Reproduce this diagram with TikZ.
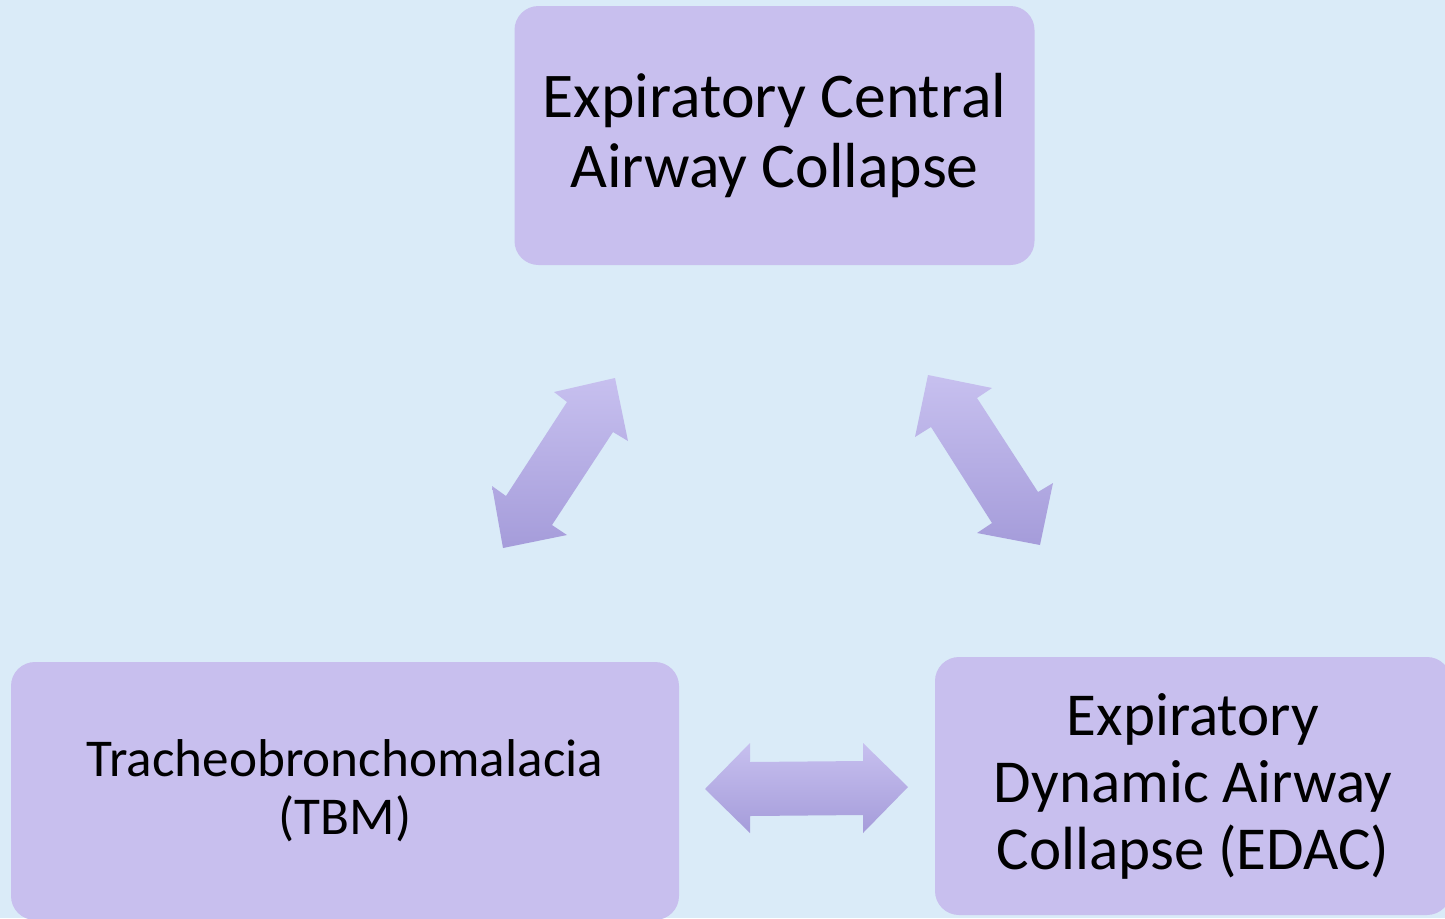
\documentclass[tikz,border=0pt]{standalone}
\usepackage{fontspec}
\setmainfont{Carlito}
\definecolor{bgblue}{HTML}{DAEBF8}
\definecolor{boxfill}{HTML}{C8BFEE}
\definecolor{arrtop}{HTML}{C7C0EF}
\definecolor{arrbot}{HTML}{A59CDA}
\begin{document}
\begin{tikzpicture}[x=1pt,y=-1pt,
  box/.style={draw=none, fill=boxfill, rounded corners=24pt, align=center, inner sep=0pt, text=black},
  blockarrow/.style={draw=none, top color=arrtop, bottom color=arrbot, shading angle=0}]
\useasboundingbox (0,0) rectangle (1445,918);
\fill[bgblue] (0,0) rectangle (1445,918);
\node[box, minimum width=520pt, minimum height=259pt, font={\fontsize{63.7}{70}\selectfont}] (ecac) at (774.5,135.5) {Expiratory Central\\Airway Collapse};
\node[box, minimum width=668pt, minimum height=258pt, font={\fontsize{53.2}{58}\selectfont}] (tbm) at (345,791) {Tracheobronchomalacia\\(TBM)};
\node[box, minimum width=516pt, minimum height=258pt, font={\fontsize{61}{67}\selectfont}] (edac) at (1193,786) {Expiratory\\Dynamic Airway\\Collapse (EDAC)};
% left diagonal double arrow
\shade[blockarrow] (615,378) -- (628,441) -- (613,432) -- (552,525) -- (567,535) -- (503,548)
  -- (492,486) -- (506,496) -- (567,402) -- (554,392) -- cycle;
% right diagonal double arrow
\shade[blockarrow] (928,375) -- (992,388) -- (977,398) -- (1038,492) -- (1053,483) -- (1040,545)
  -- (977,533) -- (992,523) -- (931,427) -- (915,437) -- cycle;
% horizontal double arrow
\shade[blockarrow] (705,789) -- (750,743) -- (750,762) -- (863,761) -- (863,743) -- (908,787)
  -- (863,833) -- (863,815) -- (750,816) -- (750,833) -- cycle;
\end{tikzpicture}
\end{document}
